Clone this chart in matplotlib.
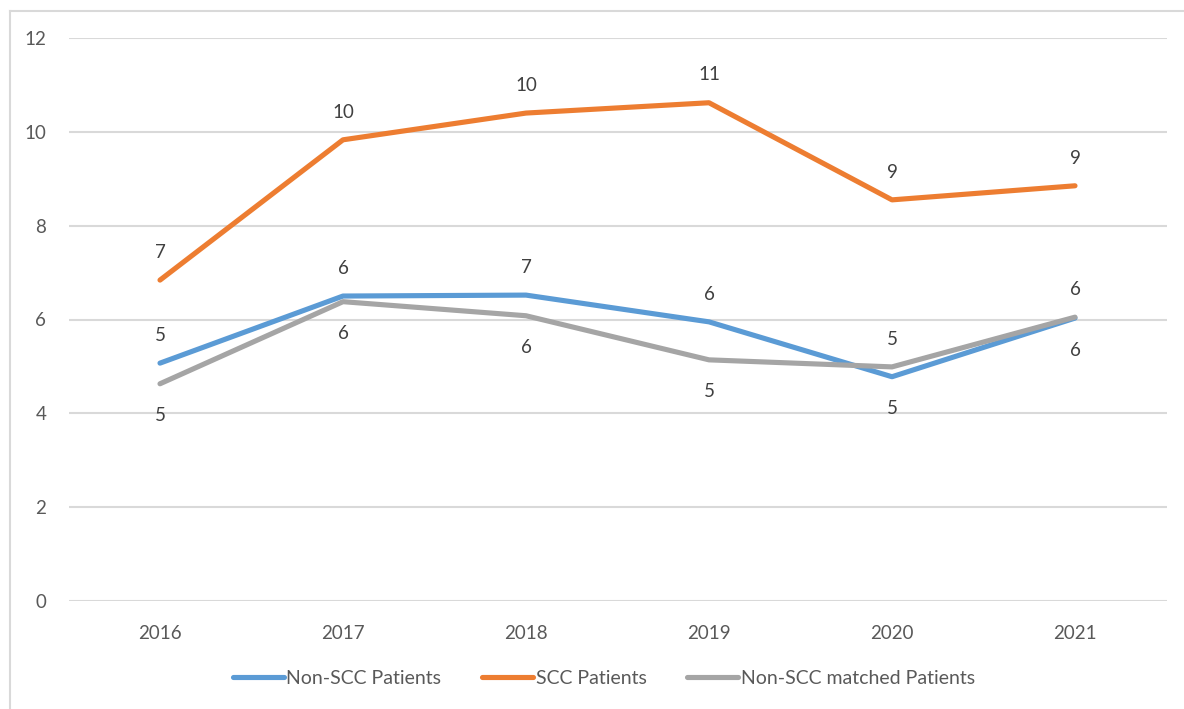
import numpy as np
import matplotlib.pyplot as plt
from matplotlib.lines import Line2D

plt.rcParams['font.family'] = ['Lato', 'DejaVu Sans']

years = ['2016', '2017', '2018', '2019', '2020', '2021']
non_scc = [5.07, 6.50, 6.52, 5.95, 4.78, 6.03]
scc = [6.84, 9.83, 10.40, 10.62, 8.55, 8.85]
non_scc_matched = [4.63, 6.38, 6.08, 5.14, 4.99, 6.05]

# label placement: +1 above the point, -1 below
non_scc_pos = [1, 1, 1, 1, -1, -1]
scc_pos = [1, 1, 1, 1, 1, 1]
matched_pos = [-1, -1, -1, -1, 1, 1]

blue = '#5B9BD5'
orange = '#ED7D31'
gray = '#A5A5A5'
txt = '#595959'

fig = plt.figure(figsize=(11.84, 7.09), dpi=100)
ax = fig.add_axes([68.5 / 1184, 108 / 709, 1098 / 1184, 563 / 709])

x = np.arange(len(years))
series = [
    (non_scc, non_scc_pos, blue, 'Non-SCC Patients'),
    (scc, scc_pos, orange, 'SCC Patients'),
    (non_scc_matched, matched_pos, gray, 'Non-SCC matched Patients'),
]
for vals, pos, col, name in series:
    ax.plot(x, vals, color=col, lw=3.7, solid_capstyle='round',
            solid_joinstyle='round', label=name, zorder=3)
    for xi, v, p in zip(x, vals, pos):
        off = 20 if p > 0 else -23
        ax.annotate(str(int(round(v))), (xi, v), xytext=(0, off),
                    textcoords='offset points', ha='center', va='center',
                    fontsize=13.5, color='#404040')

ax.set_xlim(-0.5, len(years) - 0.5)
ax.set_ylim(0, 12)
ax.set_yticks(range(0, 13, 2))
ax.set_xticks(x)
ax.set_xticklabels(years)
ax.grid(axis='y', color='#D9D9D9', lw=1.5)
ax.set_axisbelow(True)
for s in ax.spines.values():
    s.set_visible(False)
ax.tick_params(axis='both', length=0, labelsize=13.5, labelcolor=txt)
ax.tick_params(axis='y', pad=16)
ax.tick_params(axis='x', pad=17)

fig.legend(loc='center', bbox_to_anchor=(604 / 1184, 1 - 678 / 709), ncol=3,
           frameon=False, fontsize=14, handlelength=2.6,
           handletextpad=0.15, columnspacing=2.1, labelcolor=txt)

# outer frame (top and left edges visible in the original)
fig.add_artist(Line2D([10 / 1184, 10 / 1184], [0, 1 - 11 / 709],
                      transform=fig.transFigure, color='#D9D9D9', lw=1.5))
fig.add_artist(Line2D([10 / 1184, 1], [1 - 11 / 709, 1 - 11 / 709],
                      transform=fig.transFigure, color='#D9D9D9', lw=1.5))

fig.savefig('out.png', dpi=100)
